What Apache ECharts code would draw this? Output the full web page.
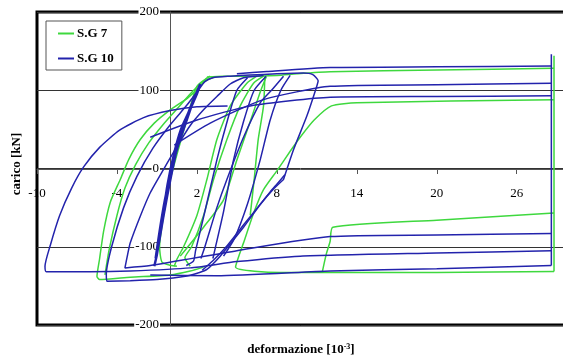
<!DOCTYPE html>
<html>
<head>
<meta charset="utf-8">
<script src="https://cdn.jsdelivr.net/npm/echarts@6/dist/echarts.min.js"></script>
<style>
  html, body { margin: 0; padding: 0; background: #fff; }
  #chart { width: 563px; height: 361px; }
</style>
</head>
<body>
<div id="chart"></div>
<script>
// axis ticks
const xTicks = [-10, -4, 2, 8, 14, 20, 26];
const yTicks = [-200, -100, 0, 100, 200];

// S.G 7 (green) strokes, [deformazione, carico]
const sg7Left = [[2.75,116],[2.25,105],[1.3,90],[0,75],[-1.2,58],[-2.25,37],[-3.1,12],[-3.75,-14],[-4.5,-43],[-5.0,-80],[-5.3,-115],[-5.5,-138],[-5.3,-142],[-3,-139],[0,-136],[1.5,-131],[2.5,-126]];
const sg7Left2 = [[-4.9,-136],[-4.6,-105],[-4.0,-60],[-3.4,-25],[-2.6,5],[-1.6,33],[-0.5,57],[0.6,78],[1.6,97],[2.4,110],[3.3,117]];
const sg7Top = [[2.75,117],[4,118],[6,118],[8,119],[9.5,121],[12,123.5],[20,126],[28.8,128]];
const sg7Vert = [[28.8,144],[28.8,-131.5]];
const sg7BottomRight = [[28.8,-131.5],[20,-133],[11.4,-133],[8.25,-133],[4.9,-126],[5.6,-90],[6.3,-55],[7.0,-27],[8,-3],[9,22],[9.75,40],[10.8,62],[12.1,80],[14,84],[28.8,88]];
const sg7Steep = [[6,-60],[6.3,-14],[6.6,37],[7,80],[7.1,118]];
const sg7RightLower = [[11.4,-133],[11.7,-110],[12.0,-93],[12.2,-75],[20,-66],[28.8,-57]];
const sg7A = [[3,118],[2,105],[1.25,63],[0,-14],[-0.5,-60],[-0.8,-100],[-0.6,-120],[0.5,-125]];
const sg7B = [[6.5,118],[5.75,109],[4.5,80],[3.5,37],[2.75,-14],[2.0,-60],[1,-100],[0.5,-116],[0.3,-125]];
const sg7C = [[7,118],[6.25,109],[5.25,80],[4.25,37],[3.25,-14],[2.5,-60],[1.6,-100],[1.1,-114],[1.5,-125]];
const sg7Diag = [[0.75,-112],[2.5,-75],[4,-40],[5,11],[6,60],[6.8,100],[7.2,117]];

// S.G 10 (blue) strokes
const sg10Left = [[4.3,80],[2,79],[0,74],[-2,65],[-3.8,49],[-5.3,27],[-6.5,2],[-7.4,-25],[-8.3,-60],[-9.0,-98],[-9.4,-125],[-9.3,-132],[-6,-132],[-3,-131],[1.5,-127],[5,-119],[9.75,-112],[20,-108],[28.6,-105]];
const sg10Outer = [[8.5,-14],[9.25,24],[10.25,67],[10.9,100],[11.1,112],[10.7,120],[10,122],[8,121],[6,119.5],[4.5,118],[3.2,116],[2.6,111],[2.1,100],[1.3,82],[0,56],[-1.3,26],[-2.5,-10],[-3.5,-50],[-4.4,-100],[-4.8,-135],[-4.75,-144],[-3,-143.5],[-1,-142],[1.25,-137.5],[2.2,-133],[2.75,-129],[3.75,-112],[4.75,-91],[5.5,-75],[6.8,-45],[7.7,-27],[8.5,-14]];
const sg10Outer2 = [[8.6,-8],[8.0,-20],[7.5,-30],[5.6,-70],[4.3,-98],[3.2,-118],[2.4,-130]];
const sg10Inner = [[28.6,-83],[20,-85],[12,-87],[5,-105],[-1.5,-124],[-3.4,-127],[-3.2,-110],[-3,-95],[-2.25,-61],[-1.5,-31],[-0.5,-1],[0.5,28],[1.5,55],[2.5,75],[3.5,92],[4.5,108],[5.5,116],[7,119]];
const sg10Band = [[-1.2,-125],[-1.0,-110],[-0.6,-65],[-0.2,-20],[0.3,20],[0.8,50],[1.35,71],[1.8,90],[2.25,108],[2.0,95],[1.4,72],[0.7,40],[0.1,0],[-0.4,-40],[-0.8,-80],[-1.1,-115],[-0.9,-100],[-0.5,-60],[0,-15],[0.5,25],[1.1,60],[1.6,80],[1.3,65],[0.6,30],[0,-10],[-0.6,-60],[-1.0,-105]];
const sg10D1 = [[5.8,116],[5,100],[4.3,62],[3.5,11],[2.6,-55],[1.9,-105],[1.75,-118],[1.2,-124]];
const sg10D2 = [[7.2,118],[6.3,100],[5.5,60],[4.75,11],[4,-55],[3.4,-100],[3.2,-115]];
const sg10D3 = [[9,119],[8.3,100],[7.5,62],[6.75,11],[5.8,-45],[4.8,-90],[4.0,-112]];
const sg10D4 = [[8.5,118],[7.6,100],[6.75,84],[5.5,40],[4.25,-14],[3.5,-50],[2.6,-100],[2.3,-115]];
const sg10U3 = [[-1.5,40],[2,62],[6,80],[12,91],[20,92],[28.6,93]];
const sg10U2 = [[0.3,30],[3,58],[7,88],[12,105],[20,107],[28.6,109]];
const sg10U1 = [[5,121],[7.25,124],[12,129],[20,130],[28.6,131]];
const sg10Vert = [[28.6,146],[28.6,-124]];
const sg10L3 = [[28.6,-124],[20,-128],[12,-131],[3.5,-137],[-1.5,-136]];

const green = '#3ed83e';
const blue = '#2323ac';

const sg7 = [sg7Left, sg7Left2, sg7Top, sg7Vert, sg7BottomRight, sg7Steep, sg7RightLower, sg7A, sg7B, sg7C, sg7Diag];
const sg10 = [sg10Left, sg10Outer, sg10Outer2, sg10Inner, sg10Band, sg10D1, sg10D2, sg10D3, sg10D4, sg10U3, sg10U2, sg10U1, sg10Vert, sg10L3];

function makeSeries(list, name, color) {
  return list.map(d => ({
    name: name,
    type: 'line',
    data: d,
    symbol: 'none',
    smooth: 0.2,
    color: color,
    lineStyle: { color: color, width: d === sg10Band ? 2.4 : 1.5 },
    animation: false
  }));
}

const chart = echarts.init(document.getElementById('chart'));
const serif = 'Liberation Serif';

chart.setOption({
  backgroundColor: '#fff',
  animation: false,
  grid: {
    left: 37, top: 12, right: -7, bottom: 36,
    containLabel: false,
    outerBoundsMode: 'none',
    show: true, borderColor: '#000', borderWidth: 3, backgroundColor: 'transparent'
  },
  legend: {
    data: ['S.G 7', 'S.G 10'],
    orient: 'vertical',
    left: 46, top: 21,
    padding: [6, 8, 5, 12],
    itemGap: 12,
    itemWidth: 16, itemHeight: 2,
    icon: 'rect',
    borderColor: '#555', borderWidth: 1,
    backgroundColor: '#fff',
    textStyle: { fontFamily: serif, fontWeight: 'bold', fontSize: 13, color: '#000', padding: [0, 0, 0, -2] }
  },
  graphic: [
    {
      type: 'text', x: 17, y: 164, rotation: Math.PI / 2,
      style: { text: 'carico [kN]', font: 'bold 13px "Liberation Serif"', fill: '#000', align: 'center', verticalAlign: 'middle' }
    },
    {
      type: 'text', x: 301, y: 350,
      style: {
        text: 'deformazione [10{sup|-3}]', font: 'bold 13px "Liberation Serif"', fill: '#000',
        align: 'center', verticalAlign: 'middle',
        rich: { sup: { font: 'bold 8px "Liberation Serif"', fill: '#000', verticalAlign: 'top', padding: [0, 0, 6, 0] } }
      }
    }
  ],
  xAxis: {
    type: 'value',
    min: -10, max: 30, interval: 6,
    offset: -156,
    axisLine: { show: true, onZero: false, lineStyle: { color: '#555', width: 1 } },
    axisTick: { show: true, length: 5, lineStyle: { color: '#555' } },
    axisLabel: {
      fontFamily: serif, fontSize: 13, color: '#000', margin: 18,
      formatter: v => xTicks.indexOf(v) >= 0 ? String(v) : ''
    },
    splitLine: { show: false }
  },
  yAxis: {
    type: 'value',
    min: -200, max: 200, interval: 100,
    offset: -133,
    axisLine: { show: true, onZero: false, lineStyle: { color: '#555', width: 1 } },
    axisTick: { show: false },
    axisLabel: {
      fontFamily: serif, fontSize: 13, color: '#000', margin: 10,
      backgroundColor: '#fff', padding: [0, 1],
      formatter: v => yTicks.indexOf(v) >= 0 ? String(v) : ''
    },
    splitLine: { show: true, lineStyle: { color: '#333', width: 1 } }
  },
  series: [].concat(makeSeries(sg7, 'S.G 7', green), makeSeries(sg10, 'S.G 10', blue))
});
</script>
</body>
</html>
